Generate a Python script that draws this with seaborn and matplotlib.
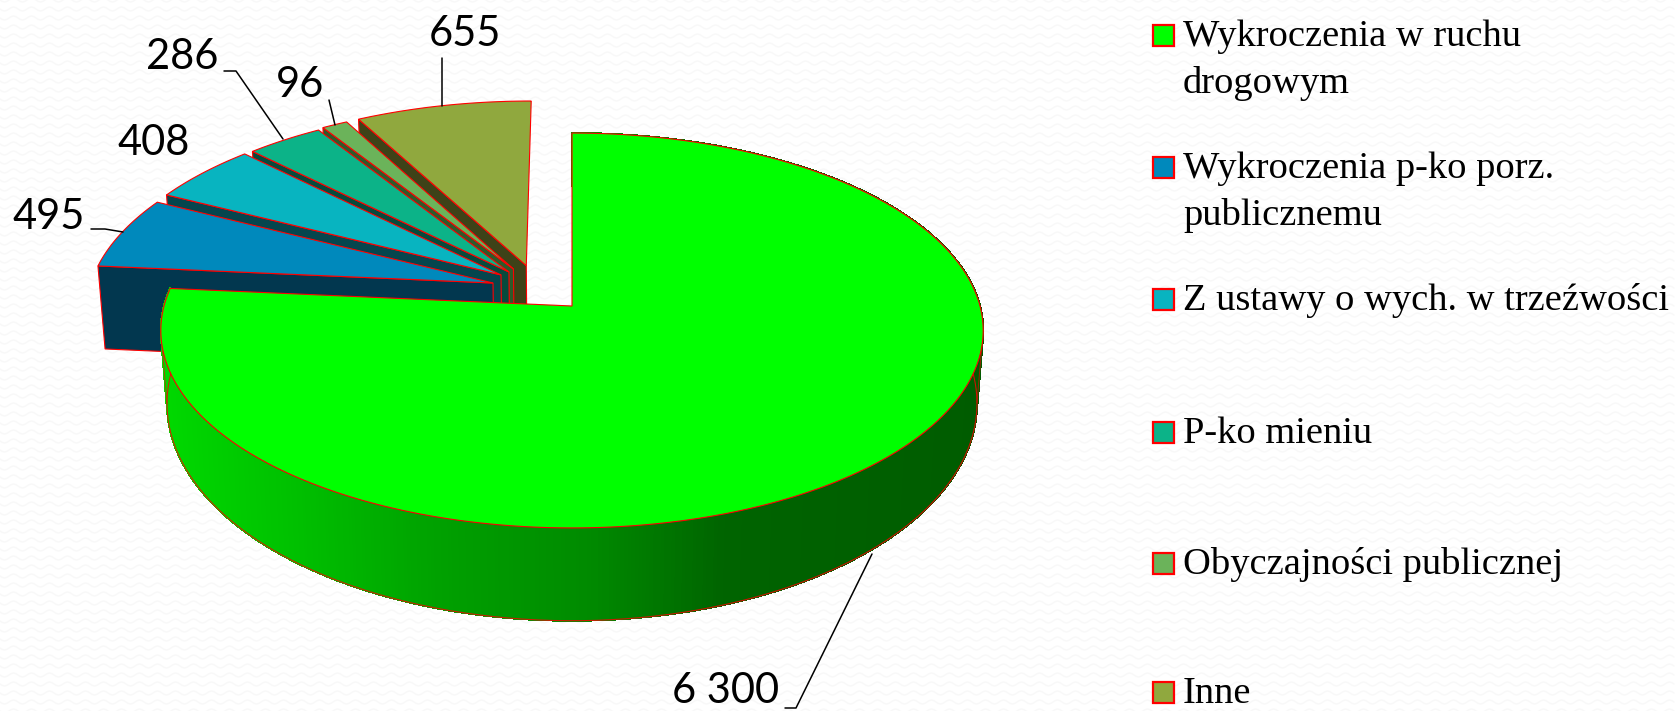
import numpy as np
import matplotlib.pyplot as plt
from matplotlib.collections import PolyCollection
from matplotlib.patches import Rectangle
import seaborn as sns

sns.set_theme(style='white')
plt.rcParams['font.family'] = ['Liberation Serif', 'DejaVu Serif']

# dane
categories = ['Wykroczenia w ruchu\ndrogowym', 'Wykroczenia p-ko porz.\npublicznemu',
              'Z ustawy o wych. w trzeźwości', 'P-ko mieniu',
              'Obyczajności publicznej', 'Inne']
values = [6300, 495, 408, 286, 96, 655]

# kolory
top_colors = ['#00FF00', '#0089BC', '#08B4C0', '#0CB388', '#6BB35A', '#90A83E']
wall_colors = ['#006000', '#02374F', '#05464E', '#074A3C', '#2F5A2A', '#3E4218']
EDGE = '#FF0000'

# wysuniecie wycinkow (w ukladzie kola)
explode_u = [0, -0.1965, -0.1775, -0.158, -0.147, -0.115]
explode_v = [0, 0.12, 0.163, 0.179, 0.195, 0.213]

# perspektywa kola
CX, CY = 572, 306
RX, RY = 408, 194.4
K = 0.124


def project(u, v):
    den = 1 + K * v
    return CX + RX * u / den, CY - RY * v / den


def lower(x, y, main):
    # dolna krawedz bryly
    xb = CX + (x - CX) * 0.985
    if main:
        return xb, y + 75 + (y - 350) * 0.1
    return xb, y + 83


fig = plt.figure(figsize=(16.75, 7.11), dpi=100)
ax = fig.add_axes([0, 0, 1, 1])
ax.set_xlim(0, 1675)
ax.set_ylim(711, 0)
ax.axis('off')

# delikatny wzor tla
bg_x = np.arange(0, 1676, 2)
for row in np.arange(0, 720, 9):
    ax.plot(bg_x, row + 2 * np.sin(bg_x * 2 * np.pi / 18), color='#F8F8F8', lw=1, zorder=0)

# katy wycinkow, zgodnie z ruchem wskazowek od gory
angles = np.r_[0, np.cumsum(values)] / sum(values) * 360

# od tylu do przodu: Inne ... porz. publ., na koncu glowny wycinek
order = list(range(1, len(values)))[::-1] + [0]
z = 2
for i in order:
    t = np.radians(np.linspace(angles[i], angles[i + 1], 600))
    x, y = project(explode_u[i] + np.sin(t), explode_v[i] + np.cos(t))
    ax_, ay_ = project(explode_u[i], explode_v[i])
    main = i == 0

    if main:
        xb, yb = lower(x, y, True)
        shade = sns.blend_palette(['#00D800', '#00BE00', '#00A000', '#008A00', '#006400', '#005C00'],
                                  as_cmap=True)
        stops = np.interp((x[:-1] + x[1:]) / 2, [165, 300, 440, 590, 725, 985],
                          np.linspace(0, 1, 6))
        quads = [[(x[j], y[j]), (x[j + 1], y[j + 1]), (xb[j + 1], yb[j + 1]), (xb[j], yb[j])]
                 for j in range(len(x) - 1)]
        cols = shade(stops)
        ax.add_collection(PolyCollection(quads, facecolors=cols, edgecolors=cols, lw=0.8,
                                         antialiased=False, zorder=z))
        ax.plot(xb, yb, color=EDGE, lw=0.8, alpha=0.8, zorder=z)
        for j in (np.argmin(x), np.argmax(x)):
            ax.plot([x[j], xb[j]], [y[j], yb[j]], color=EDGE, lw=0.7, alpha=0.6, zorder=z)
    else:
        bx, by = lower(np.array([ax_, x[0]]), np.array([ay_, y[0]]), False)
        ax.fill([ax_, x[0], bx[1], bx[0]], [ay_, y[0], by[1], by[0]],
                facecolor=wall_colors[i], edgecolor=EDGE, lw=0.8, zorder=z)
    z += 1
    ax.fill(np.r_[ax_, x], np.r_[ay_, y], facecolor=top_colors[i], edgecolor=EDGE,
            lw=0.8, joinstyle='miter', zorder=z)
    z += 1

# etykiety danych
label_x = [726, 49, 154, 182, 300, 465]
label_y = [691, 217, 143, 57, 85, 34]
for v, lx, ly in zip(values, label_x, label_y):
    ax.text(lx, ly, f'{v:,}'.replace(',', ' '), family='Lato', fontsize=30, color='black',
            ha='center', va='center', zorder=50)

# linie odniesienia
leaders = [([785, 796, 872], [708, 708, 554]),
           ([91, 105, 123], [229, 229, 232]),
           ([224, 236, 283], [71, 71, 139]),
           ([329, 335], [100, 125]),
           ([441.5, 441.5], [58, 106])]
for lx, ly in leaders:
    ax.plot(lx, ly, color='black', lw=1.1, zorder=50)

# legenda
legend_y = [35, 167, 299, 432, 563, 692]
for name, col, ly in zip(categories, top_colors, legend_y):
    ax.add_patch(Rectangle((1153, ly - 10.5), 21, 21, facecolor=col, edgecolor=EDGE, lw=1.6, zorder=50))
    for n, line in enumerate(name.split('\n')):
        ax.text(1183, ly + 11 + n * 47, line, fontsize=27.7, color='black', ha='left',
                va='baseline', zorder=50)

fig.savefig('out.png', dpi=100, facecolor='white')
